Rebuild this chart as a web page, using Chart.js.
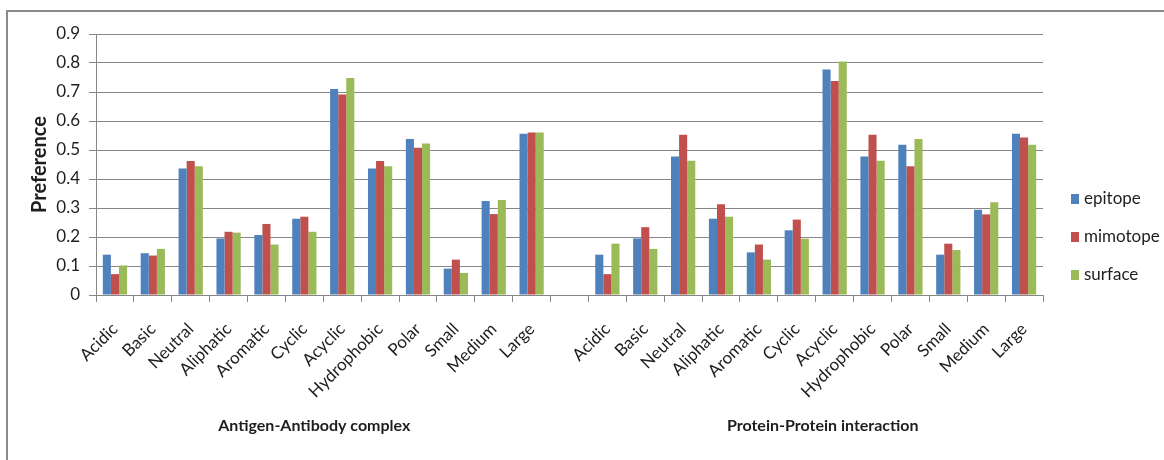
<!DOCTYPE html>
<html>
<head>
<meta charset="utf-8">
<title>Preference</title>
<script src="https://cdn.jsdelivr.net/npm/chart.js@4.4.1/dist/chart.umd.min.js"></script>
<style>
  html, body { margin: 0; padding: 0; background: #fff; }
  #wrap { position: relative; width: 1164px; height: 460px; }
</style>
</head>
<body>
<div id="wrap"><canvas id="chart"></canvas></div>
<script>
// amino acid property classes, shown once per complex type
const categories = ['Acidic', 'Basic', 'Neutral', 'Aliphatic', 'Aromatic', 'Cyclic',
    'Acyclic', 'Hydrophobic', 'Polar', 'Small', 'Medium', 'Large'];
const groups = ['Antigen-Antibody complex', 'Protein-Protein interaction'];
const seriesNames = ['epitope', 'mimotope', 'surface'];
const yTicks = [0, 0.1, 0.2, 0.3, 0.4, 0.5, 0.6, 0.7, 0.8, 0.9];

// Antigen-Antibody complex
const epitopeAA = [0.139, 0.144, 0.436, 0.195, 0.207, 0.263, 0.710, 0.436, 0.538, 0.091, 0.324, 0.556];
const mimotopeAA = [0.072, 0.136, 0.462, 0.218, 0.245, 0.270, 0.691, 0.462, 0.508, 0.122, 0.279, 0.560];
const surfaceAA = [0.102, 0.159, 0.444, 0.215, 0.174, 0.218, 0.748, 0.444, 0.522, 0.076, 0.328, 0.560];

// Protein-Protein interaction
const epitopePP = [0.139, 0.195, 0.478, 0.263, 0.147, 0.223, 0.778, 0.478, 0.518, 0.139, 0.294, 0.556];
const mimotopePP = [0.072, 0.234, 0.553, 0.313, 0.174, 0.260, 0.738, 0.553, 0.444, 0.177, 0.278, 0.543];
const surfacePP = [0.177, 0.159, 0.463, 0.270, 0.122, 0.194, 0.805, 0.463, 0.538, 0.155, 0.320, 0.518];

const colors = ['#4F81BD', '#C0504D', '#9BBB59'];
const gridColor = '#878787';
const textColor = '#1e1e1e';
const fontFamily = "Lato, 'Liberation Sans', sans-serif";

// one empty slot separates the two groups
const labels = [...categories, '', ...categories];
const join = (a, b) => [...a, null, ...b];

const data = {
    labels,
    datasets: [
        { label: seriesNames[0], data: join(epitopeAA, epitopePP), backgroundColor: colors[0] },
        { label: seriesNames[1], data: join(mimotopeAA, mimotopePP), backgroundColor: colors[1] },
        { label: seriesNames[2], data: join(surfaceAA, surfacePP), backgroundColor: colors[2] },
    ],
};

// outer frame, group captions and the legend on the right
const decorations = {
    id: 'decorations',
    beforeDraw(chart) {
        const ctx = chart.ctx;
        ctx.save();
        ctx.fillStyle = '#fff';
        ctx.fillRect(0, 0, chart.width, chart.height);
        ctx.strokeStyle = '#8a8a8a';
        ctx.lineWidth = 2;
        ctx.beginPath();
        ctx.moveTo(7, chart.height + 2);
        ctx.lineTo(7, 11);
        ctx.lineTo(chart.width + 2, 11);
        ctx.stroke();
        ctx.restore();
    },
    afterDraw(chart) {
        const ctx = chart.ctx;
        const x = chart.scales.x;
        const area = chart.chartArea;
        ctx.save();
        ctx.fillStyle = textColor;
        ctx.textAlign = 'center';
        ctx.textBaseline = 'middle';
        ctx.font = `bold 16px ${fontFamily}`;
        const n = categories.length;
        const aaMid = (x.getPixelForValue(0) + x.getPixelForValue(n - 1)) / 2 - 9;
        const ppMid = (x.getPixelForValue(n + 1) + x.getPixelForValue(2 * n)) / 2 + 7;
        ctx.fillText(groups[0], aaMid, area.bottom + 131);
        ctx.fillText(groups[1], ppMid, area.bottom + 131);

        // legend
        ctx.textAlign = 'left';
        ctx.font = `17px ${fontFamily}`;
        chart.data.datasets.forEach((ds, i) => {
            const cy = 199 + i * 38;
            ctx.fillStyle = ds.backgroundColor;
            ctx.fillRect(area.right + 28, cy - 5, 8, 10);
            ctx.fillStyle = textColor;
            ctx.fillText(ds.label, area.right + 41, cy);
        });
        ctx.restore();
    },
};

const config = {
    type: 'bar',
    data,
    plugins: [decorations],
    options: {
        responsive: true,
        maintainAspectRatio: false,
        animation: false,
        layout: {
            padding: { left: 24, top: 34, right: 121, bottom: 0 },
        },
        datasets: {
            bar: { categoryPercentage: 0.64, barPercentage: 1.0 },
        },
        plugins: {
            legend: { display: false },
            tooltip: { enabled: false },
        },
        scales: {
            x: {
                afterFit(axis) { axis.height = 165; },
                grid: {
                    offset: true,
                    drawOnChartArea: false,
                    drawTicks: true,
                    tickLength: 7,
                    color: gridColor,
                },
                border: { color: gridColor },
                ticks: {
                    autoSkip: false,
                    minRotation: 45,
                    maxRotation: 45,
                    padding: 17,
                    color: textColor,
                    font: { family: fontFamily, size: 17 },
                },
            },
            y: {
                min: 0,
                max: 0.9,
                afterFit(axis) { axis.width = 72; },
                afterBuildTicks(axis) { axis.ticks = yTicks.map(v => ({ value: v })); },
                grid: {
                    color: gridColor,
                    tickLength: 7,
                },
                border: { color: gridColor },
                ticks: {
                    padding: 9,
                    color: textColor,
                    font: { family: fontFamily, size: 17 },
                    callback: v => String(Math.round(v * 10) / 10),
                },
                title: {
                    display: true,
                    text: 'Preference',
                    color: textColor,
                    font: { family: fontFamily, size: 20, weight: 'bold' },
                    padding: { top: 4, bottom: 0 },
                },
            },
        },
    },
};

new Chart(document.getElementById('chart'), config);
</script>
</body>
</html>
